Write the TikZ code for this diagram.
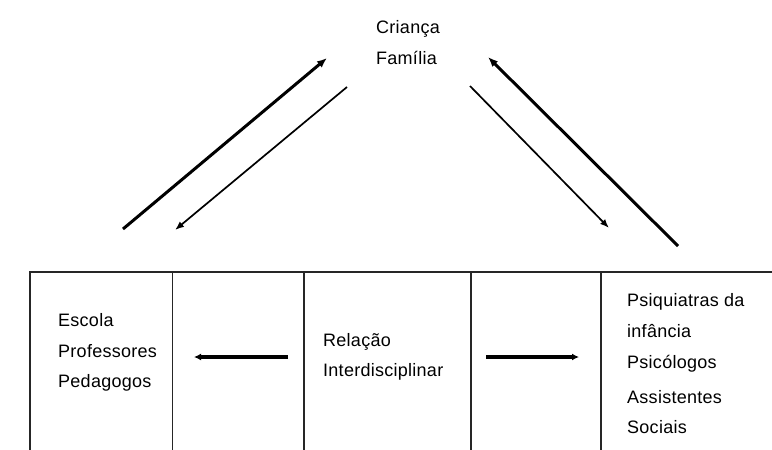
\documentclass[tikz,border=0pt]{standalone}
\usepackage{fontspec}
\setmainfont{Liberation Sans}[LetterSpace=1.5]
\usetikzlibrary{arrows.meta}
\begin{document}
\begin{tikzpicture}[x=1pt,y=-1pt,
  txt/.style={anchor=base west,inner sep=0pt,font=\fontsize{18}{20}\selectfont},
  frame/.style={line width=1.5pt,draw=black!85},
  thinframe/.style={line width=1pt,draw=black!85},
  thickarr/.style={line width=3pt,-{Latex[length=10pt,width=8pt]}},
  thinarr/.style={line width=1.7pt,-{Latex[length=9pt,width=7pt]}},
  horarr/.style={line width=4pt,-{Latex[length=7pt,width=7pt]}}]
\useasboundingbox (0,0) rectangle (772,450);
% texts
\node[txt] (crianca) at (376,33) {Criança};
\node[txt] (familia) at (376,64) {Família};
\node[txt] (escola) at (58,326) {Escola};
\node[txt] (prof) at (58,357) {Professores};
\node[txt] (ped) at (58,387) {Pedagogos};
\node[txt] (rel) at (323,346) {Relação};
\node[txt] (inter) at (323,376) {Interdisciplinar};
\node[txt] (psiq) at (627,306) {Psiquiatras da};
\node[txt] (inf) at (627,337) {infância};
\node[txt] (psic) at (627,368) {Psicólogos};
\node[txt] (assist) at (627,403) {Assistentes};
\node[txt] (soc) at (627,433) {Sociais};
% frame
\draw[frame] (30,450) -- (30,272) -- (772,272);
\draw[thinframe] (172,272) -- (172,450);
\draw[frame] (304,272) -- (304,450);
\draw[frame] (471,272) -- (471,450);
\draw[frame] (601,272) -- (601,450);
% diagonal arrows
\coordinate (l1s) at (123,229); \coordinate (l1e) at (327,58);
\coordinate (l2s) at (347,87);  \coordinate (l2e) at (175,230);
\coordinate (r1s) at (470,86);  \coordinate (r1e) at (609,228);
\coordinate (r2s) at (678,246); \coordinate (r2e) at (488,57);
\draw[thickarr] (l1s) -- (l1e);
\draw[thinarr] (l2s) -- (l2e);
\draw[thinarr] (r1s) -- (r1e);
\draw[thickarr] (r2s) -- (r2e);
% horizontal arrows
\coordinate (h1s) at (288,357); \coordinate (h1e) at (194,357);
\coordinate (h2s) at (486,357); \coordinate (h2e) at (579,357);
\draw[horarr] (h1s) -- (h1e);
\draw[horarr] (h2s) -- (h2e);
\end{tikzpicture}
\end{document}
